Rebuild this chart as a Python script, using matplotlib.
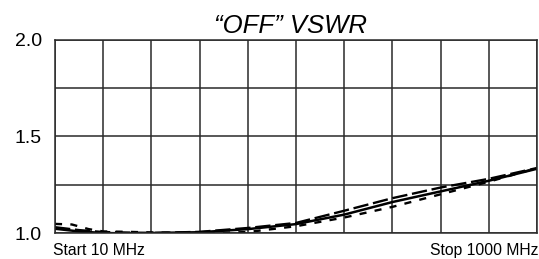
import numpy as np
import matplotlib
matplotlib.use("Agg")
import matplotlib.pyplot as plt

plt.rcParams['font.family'] = ['Liberation Sans', 'DejaVu Sans']

# sweep position in grid divisions (0 = 10 MHz, 10 = 1000 MHz)
div_solid = [0, 0.5, 1, 1.5, 2, 3, 4, 5, 6, 7, 8, 9, 10]
vswr_solid = [1.022, 1.008, 1.0, 0.998, 1.0, 1.004, 1.02, 1.046, 1.095, 1.16, 1.215, 1.27, 1.332]

div_long = [0, 0.5, 1, 2, 3, 4, 5, 6, 7, 8, 9, 10]
vswr_long = [1.03, 1.015, 1.005, 1.0, 1.006, 1.026, 1.052, 1.115, 1.18, 1.235, 1.28, 1.336]

div_short = [0, 0.35, 0.7, 1, 1.5, 2, 3, 4, 5, 6, 7, 8, 9, 10]
vswr_short = [1.047, 1.044, 1.02, 1.008, 1.006, 1.003, 0.998, 1.005, 1.035, 1.08, 1.135, 1.2, 1.265, 1.336]

f_start, f_stop = 10, 1000
y_ticks = [1.0, 1.25, 1.5, 1.75, 2.0]
y_labels = ['1.0', '', '1.5', '', '2.0']


def to_mhz(d):
    return f_start + (f_stop - f_start) * np.array(d) / 10.0


fig = plt.figure(figsize=(5.39, 2.59), dpi=100)
ax = fig.add_axes([55 / 539, 1 - 233 / 259, 482 / 539, 193.5 / 259])

ax.plot(to_mhz(div_solid), vswr_solid, color='black', lw=1.8)
ax.plot(to_mhz(div_long), vswr_long, color='black', lw=1.7, dashes=(6.5, 2))
ax.plot(to_mhz(div_short), vswr_short, color='black', lw=1.7, dashes=(3, 3.5))

ax.set_xlim(f_start, f_stop)
ax.set_ylim(1.0, 2.0)
ax.set_xticks(np.linspace(f_start, f_stop, 11))
ax.set_xticklabels([])
ax.set_yticks(y_ticks)
ax.set_yticklabels(y_labels, fontsize=14)
ax.tick_params(length=0, pad=9.5)
ax.grid(True, color='#2a2a2a', lw=1.1)
for s in ax.spines.values():
    s.set_color('#2a2a2a')
    s.set_linewidth(1.1)

fig.text(290 / 539, 1 - 33 / 259, '\u201cOFF\u201d VSWR', fontsize=18.5,
         style='italic', ha='center', va='baseline')
fig.text(53 / 539, 1 - 255 / 259, 'Start 10 MHz', fontsize=11.3,
         ha='left', va='baseline')
fig.text(538 / 539, 1 - 255 / 259, 'Stop 1000 MHz', fontsize=11.3,
         ha='right', va='baseline')

fig.savefig('out.png', dpi=100)
